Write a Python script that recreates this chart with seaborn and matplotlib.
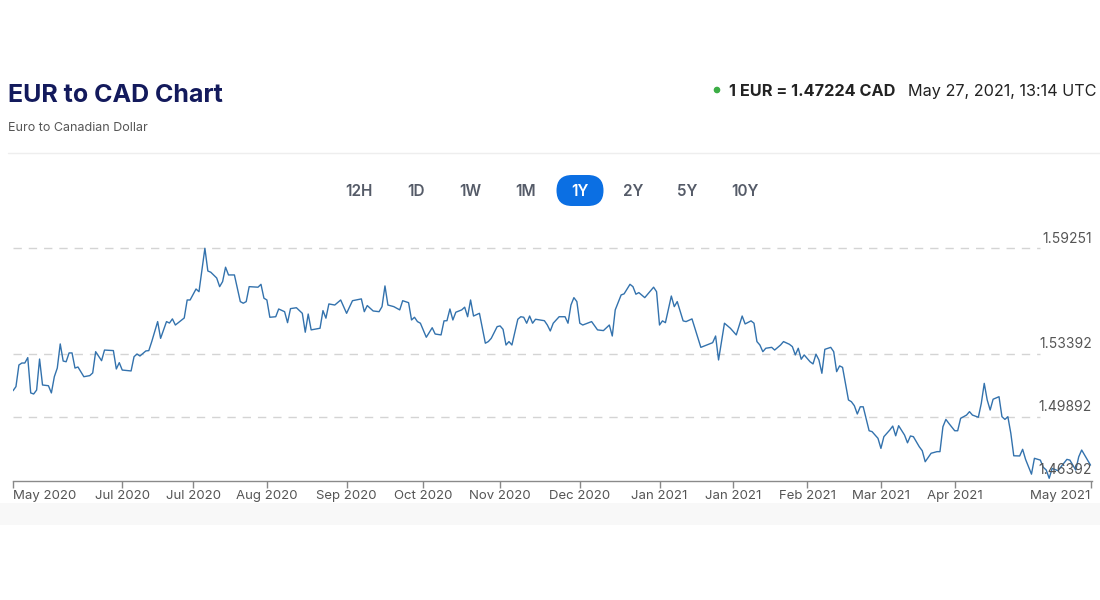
import matplotlib
matplotlib.use("Agg")
import matplotlib.pyplot as plt
from matplotlib.patches import FancyBboxPatch, Rectangle, Circle
import seaborn as sns
import pandas as pd

# ---------------- data ----------------
title = "EUR to CAD Chart"
subtitle = "Euro to Canadian Dollar"
quote_text = "1 EUR = 1.47224 CAD"
quote_time = "May 27, 2021, 13:14 UTC"
range_buttons = ["12H", "1D", "1W", "1M", "1Y", "2Y", "5Y", "10Y"]
active_button = "1Y"

# days since start (May 27, 2020)
days = [
    0, 1, 2, 3, 4, 5, 6, 7, 8, 9,
    10, 12, 13, 14, 15, 16, 17, 18, 19, 20,
    21, 22, 24, 26, 27, 28, 30, 31, 34, 35,
    36, 37, 40, 41, 42, 43, 45, 46, 47, 49,
    50, 52, 53, 54, 55, 58, 59, 60, 62, 63,
    65, 66, 67, 69, 70, 71, 72, 73, 75, 77,
    78, 79, 80, 83, 84, 85, 86, 87, 89, 90,
    92, 93, 94, 96, 98, 99, 100, 101, 104, 105,
    106, 107, 109, 111, 113, 114, 115, 118, 119, 120,
    122, 124, 125, 126, 127, 129, 131, 132, 134, 135,
    136, 137, 138, 140, 142, 143, 145, 146, 147, 148,
    149, 150, 152, 153, 154, 155, 156, 158, 160, 161,
    162, 164, 165, 166, 167, 168, 169, 171, 172, 173,
    174, 175, 176, 177, 180, 181, 182, 183, 185, 187,
    188, 189, 190, 191, 192, 193, 196, 198, 200, 202,
    203, 204, 206, 207, 209, 210, 211, 212, 214, 217,
    218, 219, 220, 221, 223, 224, 225, 227, 228, 230,
    231, 233, 235, 237, 238, 239, 241, 243, 245, 247,
    248, 250, 251, 252, 253, 254, 255, 257, 258, 260,
    261, 263, 264, 265, 266, 267, 268, 270, 271, 272,
    273, 274, 275, 277, 278, 279, 280, 281, 283, 284,
    285, 286, 287, 288, 290, 291, 293, 294, 295, 297,
    298, 299, 300, 302, 303, 304, 305, 307, 308, 309,
    311, 313, 314, 315, 316, 317, 319, 320, 321, 323,
    324, 325, 327, 328, 329, 330, 331, 332, 334, 335,
    336, 337, 338, 339, 341, 342, 343, 345, 346, 348,
    349, 350, 351, 352, 354, 355, 357, 358, 360, 361,
    362, 363, 365,
]

rates = [
    1.5135, 1.5158, 1.5278, 1.5289, 1.5289, 1.5319, 1.5123, 1.5117, 1.5139, 1.5311,
    1.5167, 1.5163, 1.5123, 1.5213, 1.5261, 1.5395, 1.5300, 1.5296, 1.5345, 1.5345,
    1.5261, 1.5267, 1.5213, 1.5219, 1.5234, 1.5352, 1.5302, 1.5361, 1.5358, 1.5256,
    1.5291, 1.5250, 1.5245, 1.5324, 1.5339, 1.5328, 1.5356, 1.5358, 1.5408, 1.5519,
    1.5426, 1.5519, 1.5511, 1.5534, 1.5500, 1.5539, 1.5639, 1.5639, 1.5700, 1.5685,
    1.5926, 1.5800, 1.5793, 1.5761, 1.5713, 1.5741, 1.5821, 1.5778, 1.5778, 1.5630,
    1.5621, 1.5630, 1.5713, 1.5710, 1.5726, 1.5649, 1.5639, 1.5543, 1.5546, 1.5589,
    1.5574, 1.5513, 1.5591, 1.5596, 1.5565, 1.5460, 1.5561, 1.5473, 1.5482, 1.5580,
    1.5538, 1.5617, 1.5611, 1.5639, 1.5565, 1.5600, 1.5635, 1.5645, 1.5574, 1.5608,
    1.5578, 1.5574, 1.5602, 1.5717, 1.5611, 1.5602, 1.5584, 1.5635, 1.5624, 1.5528,
    1.5543, 1.5519, 1.5510, 1.5432, 1.5485, 1.5450, 1.5445, 1.5523, 1.5524, 1.5589,
    1.5528, 1.5571, 1.5584, 1.5599, 1.5546, 1.5639, 1.5550, 1.5565, 1.5399, 1.5408,
    1.5426, 1.5491, 1.5495, 1.5476, 1.5389, 1.5408, 1.5389, 1.5532, 1.5546, 1.5543,
    1.5510, 1.5550, 1.5510, 1.5532, 1.5524, 1.5500, 1.5467, 1.5510, 1.5546, 1.5546,
    1.5510, 1.5611, 1.5652, 1.5630, 1.5510, 1.5500, 1.5519, 1.5473, 1.5469, 1.5500,
    1.5439, 1.5584, 1.5667, 1.5673, 1.5726, 1.5713, 1.5671, 1.5680, 1.5652, 1.5710,
    1.5685, 1.5500, 1.5523, 1.5513, 1.5661, 1.5602, 1.5630, 1.5523, 1.5519, 1.5534,
    1.5482, 1.5376, 1.5389, 1.5402, 1.5439, 1.5306, 1.5510, 1.5482, 1.5445, 1.5550,
    1.5506, 1.5523, 1.5510, 1.5408, 1.5389, 1.5352, 1.5371, 1.5376, 1.5361, 1.5389,
    1.5408, 1.5393, 1.5380, 1.5334, 1.5371, 1.5310, 1.5334, 1.5296, 1.5284, 1.5338,
    1.5306, 1.5232, 1.5365, 1.5376, 1.5352, 1.5241, 1.5273, 1.5265, 1.5084, 1.5074,
    1.5052, 1.5006, 1.5046, 1.5046, 1.4913, 1.4908, 1.4871, 1.4815, 1.4880, 1.4917,
    1.4939, 1.4885, 1.4941, 1.4889, 1.4846, 1.4884, 1.4880, 1.4824, 1.4802, 1.4741,
    1.4788, 1.4797, 1.4797, 1.4935, 1.4976, 1.4954, 1.4913, 1.4913, 1.4982, 1.5000,
    1.5019, 1.5000, 1.4988, 1.5065, 1.5176, 1.5084, 1.5028, 1.5088, 1.5102, 1.4991,
    1.4976, 1.4991, 1.4899, 1.4774, 1.4773, 1.4810, 1.4754, 1.4672, 1.4760, 1.4750,
    1.4710, 1.4695, 1.4649, 1.4704, 1.4691, 1.4713, 1.4754, 1.4750, 1.4695, 1.4768,
    1.4806, 1.4778, 1.4722,
]

grid_values = [1.59251, 1.53392, 1.49892, 1.46392]
grid_labels = ["1.59251", "1.53392", "1.49892", "1.46392"]

tick_days = [0, 37, 61, 86, 113, 139, 165, 192, 219, 244, 269, 294, 319, 365]
tick_labels = ["May 2020", "Jul 2020", "Jul 2020", "Aug 2020", "Sep 2020", "Oct 2020",
               "Nov 2020", "Dec 2020", "Jan 2021", "Jan 2021", "Feb 2021", "Mar 2021",
               "Apr 2021", "May 2021"]

# ---------------- style ----------------
sns.set_theme(style="white")
plt.rcParams["font.family"] = ["Inter", "DejaVu Sans"]

W, H = 1100, 600
fig = plt.figure(figsize=(W / 100, H / 100), dpi=100)
fig.patch.set_facecolor("white")

# background / header layer in pixel coordinates
bg = fig.add_axes([0, 0, 1, 1], zorder=0)
bg.set_xlim(0, W)
bg.set_ylim(H, 0)
bg.set_axis_off()
bg.patch.set_alpha(0)

bg.add_patch(Rectangle((0, 503), W, 22, facecolor="#f8f8f8", edgecolor="none"))
bg.plot([8, W], [153, 153], color="#eeeeee", lw=1)

bg.text(8, 96, title, fontsize=18, fontweight="bold", color="#131a5c",
        ha="left", va="center")
bg.text(8, 128, subtitle, fontsize=9, color="#555555", ha="left", va="center")

bg.add_patch(Circle((717, 90), 2.6, color="#3cae46"))
bg.text(729, 91.5, quote_text, fontsize=11.7, fontweight="bold", color="#222222",
        ha="left", va="center")
bg.text(1097, 91.5, quote_time, fontsize=11.7, color="#222222", ha="right", va="center")

btn_x = [359, 416, 470, 526, 580, 633, 687, 745]
for lab, bx in zip(range_buttons, btn_x):
    if lab == active_button:
        bg.add_patch(FancyBboxPatch((bx - 23.5, 175), 47, 31,
                                    boxstyle="round,pad=0,rounding_size=15.5",
                                    facecolor="#0b6fe3", edgecolor="none"))
        col = "white"
    else:
        col = "#555b68"
    bg.text(bx, 191, lab, fontsize=11, fontweight="semibold", color=col,
            ha="center", va="center")

# ---------------- chart ----------------
ax_left, ax_right = 13 / W, 1092 / W
ax_bottom, ax_top = 1 - 481 / H, 1 - 240 / H
ax = fig.add_axes([ax_left, ax_bottom, ax_right - ax_left, ax_top - ax_bottom], zorder=1)
ax.patch.set_alpha(0)

df = pd.DataFrame({"day": days, "rate": rates})

for v in grid_values[:-1]:
    ax.axhline(v, xmin=0, xmax=0.952, color="#d4d4d4", lw=1, ls=(0, (6, 5)), zorder=1)

sns.lineplot(data=df, x="day", y="rate", ax=ax, color="#3372ad", linewidth=1.0,
             zorder=3)

for v, lab in zip(grid_values, grid_labels):
    ax.annotate(lab, xy=(1.0, v), xycoords=("axes fraction", "data"),
                xytext=(0, 2), textcoords="offset points", ha="right", va="bottom",
                fontsize=10, color="#555555", zorder=4)

ax.set_xlim(0, 365.5)
ax.set_ylim(1.4634, 1.5972)
ax.set_xlabel("")
ax.set_ylabel("")
ax.set_yticks([])
ax.set_xticks(tick_days)
ax.set_xticklabels(tick_labels)
ax.tick_params(axis="x", direction="out", length=5, width=1, color="#888888",
               labelcolor="#555555", labelsize=9.5, pad=1.5, bottom=True)
tl = ax.get_xticklabels()
tl[0].set_ha("left")
tl[-1].set_ha("right")

for s in ["top", "left", "right"]:
    ax.spines[s].set_visible(False)
ax.spines["bottom"].set_color("#8a8a8a")
ax.spines["bottom"].set_linewidth(1)

fig.savefig("out.png", dpi=100, facecolor="white")
